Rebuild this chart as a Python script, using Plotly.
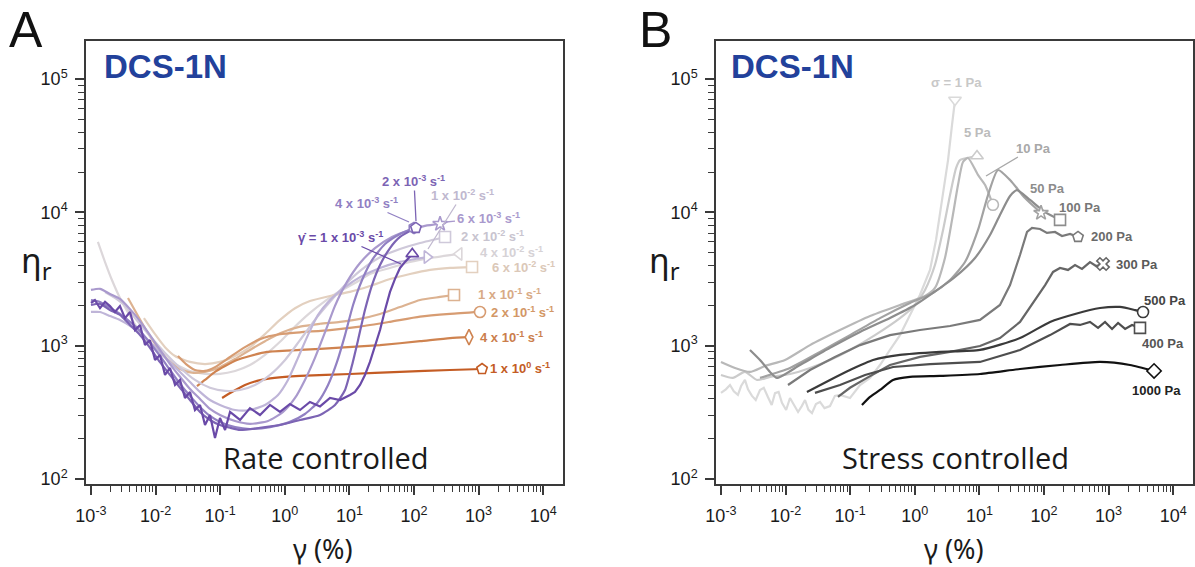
import plotly.graph_objects as go

W, H = 1195, 567

# ---------------- Panel A : rate controlled (strain %, relative viscosity) ----------------
A_r1e3_x = [0.001,0.00115,0.00138,0.00165,0.00197,0.00235,0.00281,0.00336,0.00402,0.0048,0.00574,0.00686,0.00819,0.0098,0.0117,0.014,0.0167,0.02,0.0239,0.0285,0.0341,0.0407,0.0487,0.0582,0.0695,0.0831,0.0993,0.119,0.142,0.203,0.289,0.413,0.59,0.843,1.2,1.72,2.45,3.51,5.01,7.15,10.2,12.2,14.6,17.4,20.8,24.9,29.8,35.6,42.5,50.8,60.7,72.6,94]
A_r1e3_y = [2090,2200,1910,2130,1980,1790,1980,1610,1790,1310,1430,1010,1100,781,852,603,680,507,553,405,449,329,359,254,302,203,287,233,318,277,340,302,359,318,365,329,378,350,405,391,427,449,507,603,755,1010,1310,1850,2530,3170,3830,4250,4880]

A_r2e3_x = [0.001,0.00138,0.00197,0.00281,0.00402,0.00574,0.00819,0.0117,0.0167,0.0239,0.0341,0.0487,0.0695,0.0993,0.142,0.203,0.413,0.843,1.72,3.51,5.98,8.55,11.0,13.6,17.4,22.4,29.8,42.5,60.7,107]
A_r2e3_y = [2020,2060,1850,1700,1430,1200,965,752,603,483,391,318,277,254,242,233,242,254,277,302,359,465,716,1100,1850,2850,4030,5400,6540,7650]

A_r4e3_x = [0.001,0.00138,0.00197,0.00281,0.00402,0.00574,0.00819,0.0117,0.0167,0.0239,0.0341,0.0487,0.0695,0.0993,0.170,0.289,0.590,1.20,2.05,3.27,4.67,6.43,8.55,11.4,15.7,22.4,35.6,60.7,100]
A_r4e3_y = [2200,2130,1920,1730,1510,1290,1050,837,657,516,420,347,297,268,245,237,245,268,307,378,507,755,1200,2020,3110,4390,5790,6890,7640]

A_r6e3_x = [0.001,0.00138,0.00197,0.00281,0.00402,0.00574,0.00819,0.0117,0.0167,0.0239,0.0341,0.0487,0.0695,0.0993,0.170,0.289,0.550,0.938,1.44,2.05,2.93,4.19,5.98,9.18,14.6,24.9,45.6,86.7,148,253]
A_r6e3_y = [2620,2670,2440,2240,1880,1530,1200,929,728,584,473,398,335,302,272,259,272,318,405,553,810,1260,1990,3010,4170,5390,6540,7380,7920,8190]

A_r1e2_x = [0.001,0.00138,0.00197,0.00281,0.00402,0.00574,0.00819,0.0117,0.0167,0.0239,0.0341,0.0487,0.0695,0.0993,0.170,0.289,0.494,0.785,1.12,1.60,2.28,3.27,5.01,8.55,14.6,29.8,60.7,104,159]
A_r1e2_y = [1790,1790,1670,1560,1410,1240,1070,898,755,635,534,450,391,359,329,329,359,427,553,810,1200,1700,2200,2750,3270,3830,4250,4470,4620]

A_r2e2_x = [0.00165,0.00235,0.00336,0.0048,0.00819,0.014,0.0239,0.0407,0.0695,0.119,0.203,0.346,0.590,1.01,1.72,2.93,5.01,8.55,14.6,29.8,60.7,124,302]
A_r2e2_y = [2530,2280,1990,1610,1180,881,683,553,483,458,465,507,603,781,1100,1560,2130,2850,3640,4610,5310,5890,6540]

A_r4e2_x = [0.00128,0.00165,0.00211,0.00281,0.00402,0.00574,0.00819,0.0117,0.0200,0.0341,0.0582,0.0993,0.170,0.289,0.494,0.843,1.44,2.45,4.19,7.15,12.2,20.8,42.5,86.7,177,498]
A_r4e2_y = [6000,4240,3110,2280,1670,1260,1030,867,728,646,614,614,646,716,852,1070,1390,1760,2160,2570,2950,3450,3830,4240,4540,4880]

A_r6e2_x = [0.0066,0.0098,0.014,0.020,0.0341,0.0582,0.0993,0.170,0.289,0.494,0.843,1.44,2.45,5.01,10.2,20.8,42.5,86.7,177,361,791]
A_r6e2_y = [1610,1220,975,837,755,728,755,837,975,1220,1560,1910,2160,2360,2530,2800,3160,3450,3700,3830,3890]

A_r1e1_x = [0.00374,0.00535,0.00763,0.0109,0.0156,0.0239,0.0366,0.0582,0.0993,0.170,0.289,0.494,0.843,1.72,3.51,7.15,14.6,29.8,60.7,124,253,416]
A_r1e1_y = [2280,1670,1240,965,781,668,626,635,690,795,929,1080,1240,1390,1460,1510,1590,1730,1950,2200,2320,2400]

A_r2e1_x = [0.0222,0.0296,0.0407,0.0582,0.0831,0.142,0.242,0.413,0.843,1.72,5.01,14.6,42.5,124,361,1050]
A_r2e1_y = [837,728,657,646,690,822,975,1120,1220,1260,1310,1390,1510,1650,1730,1790]

A_r4e1_x = [0.0437,0.0582,0.0831,0.119,0.182,0.289,0.530,1.72,7.15,29.8,124,361,710]
A_r4e1_y = [498,553,635,703,781,837,898,929,965,1010,1080,1140,1160]

A_r1e0_x = [0.107,0.152,0.242,0.372,0.530,1.01,1.72,10.2,60.7,361,1130]
A_r1e0_y = [405,449,507,544,563,583,593,613,635,657,668]

# ---------------- Panel B : stress controlled ----------------
B_s1_x = [0.001,0.00119,0.00138,0.00158,0.00183,0.00205,0.00235,0.00262,0.00302,0.00345,0.00402,0.0046,0.00535,0.0061,0.00686,0.0078,0.00879,0.0102,0.0117,0.0135,0.0156,0.0178,0.0200,0.0226,0.0256,0.0295,0.0341,0.0400,0.0487,0.0580,0.0695,0.0993,0.142,0.203,0.289,0.413,0.590,0.843,1.20,1.72,2.13,2.64,3.27,3.77,4.19]
B_s1_y = [442,470,507,455,427,498,553,470,420,391,465,483,410,359,440,449,372,329,405,360,318,352,391,330,312,365,378,340,352,420,427,405,507,573,716,929,1200,1700,2400,3700,6210,12400,24700,45300,69700]

B_s5_x = [0.001,0.00153,0.00235,0.00361,0.00574,0.0117,0.0239,0.0487,0.0993,0.242,0.590,1.01,1.44,2.05,2.74,3.51,4.35,5.01,6.43,9.18]
B_s5_y = [603,573,635,553,583,613,680,781,929,1200,1610,2020,2620,4030,7380,13500,21500,24700,25600,26500]

B_s10_x = [0.001,0.00165,0.00281,0.0048,0.0098,0.0239,0.0695,0.203,0.590,1.44,2.05,2.93,3.77,4.67,5.57,6.67,9.51,12.2,16.2]
B_s10_y = [755,680,635,704,781,1010,1310,1670,2020,2360,2710,4550,8780,16100,23900,25600,19100,16100,11400]

B_s50_x = [0.00402,0.0117,0.0341,0.0993,0.289,0.843,1.91,3.51,5.98,9.51,13.6,19.4,29.8,50.8,89.9]
B_s50_y = [573,680,898,1200,1610,2090,2490,3110,4240,7380,13500,20800,17500,12800,9900]

B_s100_x = [0.00281,0.00402,0.00574,0.00736,0.0167,0.0487,0.142,0.413,1.01,1.91,4.19,8.55,14.6,20.8,29.8,38.2,60.7,104,177]
B_s100_y = [929,781,635,573,716,962,1266,1615,2020,2490,3275,4550,6770,9570,13270,14700,12400,10050,8780]

B_s200_x = [0.0109,0.0239,0.0582,0.142,0.413,1.20,3.51,10.2,20.8,29.8,42.5,54.6,65.2,86.7,111,148,190,253,336]
B_s200_y = [507,657,823,1010,1200,1310,1405,1560,2020,2850,4790,7130,7640,7510,7010,7130,6650,6890,6540]

B_s300_x = [0.0647,0.0993,0.182,0.413,1.20,3.51,10.2,20.8,42.5,72.6,104,138,177,235,302,387,515,638,819]
B_s300_y = [413,483,573,716,823,898,994,1140,1507,2200,2850,3575,3830,3700,4030,3764,4240,3960,4100]

B_s400_x = [0.0285,0.0695,0.170,0.460,1.72,10.2,42.5,124,253,361,515,686,880,1130,1400,1800,2300,3060]
B_s400_y = [442,507,603,692,728,755,929,1200,1455,1430,1507,1360,1507,1335,1480,1335,1430,1360]

B_s500_x = [0.0214,0.0487,0.0993,0.226,0.590,2.45,10.2,42.5,124,302,736,1500,2570,3410]
B_s500_y = [449,553,657,781,852,898,929,1140,1507,1730,1916,1952,1850,1787]

B_s1000_x = [0.152,0.203,0.289,0.460,0.843,2.45,10.2,42.5,177,736,2140,5050]
B_s1000_y = [359,413,465,553,583,593,613,668,716,755,716,646]

# tick labels
x_tickvals = [1e-3, 1e-2, 1e-1, 1e0, 1e1, 1e2, 1e3, 1e4]
x_ticktext = ["10<sup>-3</sup>", "10<sup>-2</sup>", "10<sup>-1</sup>", "10<sup>0</sup>",
              "10<sup>1</sup>", "10<sup>2</sup>", "10<sup>3</sup>", "10<sup>4</sup>"]
y_tickvals = [1e2, 1e3, 1e4, 1e5]
y_ticktext = ["10<sup>2</sup>", "10<sup>3</sup>", "10<sup>4</sup>", "10<sup>5</sup>"]

# series: (x, y, colour, end-marker symbol, line shape)
seriesA = [
    (A_r4e2_x, A_r4e2_y, "#dcd7da", "triangle-left", "spline"),
    (A_r6e2_x, A_r6e2_y, "#e3d0bf", "square", "spline"),
    (A_r1e1_x, A_r1e1_y, "#dcb291", "square", "spline"),
    (A_r2e1_x, A_r2e1_y, "#d79c72", "circle", "spline"),
    (A_r4e1_x, A_r4e1_y, "#cf8350", "diamond-tall", "spline"),
    (A_r1e0_x, A_r1e0_y, "#c45c24", "pentagon", "spline"),
    (A_r2e2_x, A_r2e2_y, "#cfc9da", "square", "spline"),
    (A_r1e2_x, A_r1e2_y, "#bfb5d8", "triangle-right", "spline"),
    (A_r6e3_x, A_r6e3_y, "#a999cd", "star", "spline"),
    (A_r4e3_x, A_r4e3_y, "#9180c3", "hexagon", "spline"),
    (A_r2e3_x, A_r2e3_y, "#7c64b4", "pentagon", "spline"),
    (A_r1e3_x, A_r1e3_y, "#6a4aa8", "triangle-up", "linear"),
]
seriesB = [
    (B_s1_x, B_s1_y, "#dadada", "triangle-down", "linear"),
    (B_s5_x, B_s5_y, "#cbcbcb", "triangle-up", "spline"),
    (B_s10_x, B_s10_y, "#b8b8b8", "circle", "spline"),
    (B_s50_x, B_s50_y, "#a2a2a2", "star", "spline"),
    (B_s100_x, B_s100_y, "#8d8d8d", "square", "spline"),
    (B_s200_x, B_s200_y, "#7a7a7a", "pentagon", "linear"),
    (B_s300_x, B_s300_y, "#666666", "x", "linear"),
    (B_s400_x, B_s400_y, "#4e4e4e", "square", "linear"),
    (B_s500_x, B_s500_y, "#3a3a3a", "circle", "spline"),
    (B_s1000_x, B_s1000_y, "#111111", "diamond", "spline"),
]

fig = go.Figure()

def add_lines(series, xa, ya):
    for x, y, c, sym, shp in series:
        fig.add_trace(go.Scatter(x=x, y=y, mode="lines", xaxis=xa, yaxis=ya,
                                 line=dict(color=c, width=2.2, shape=shp, smoothing=0.6),
                                 showlegend=False, hoverinfo="skip"))

def add_markers(series, xa, ya):
    for x, y, c, sym, shp in series:
        fig.add_trace(go.Scatter(x=[x[-1]], y=[y[-1]], mode="markers", xaxis=xa, yaxis=ya,
                                 marker=dict(symbol=sym, size=11, color="white",
                                             line=dict(color=c, width=1.6)),
                                 showlegend=False, hoverinfo="skip"))

add_lines(seriesA, "x", "y")
add_lines(seriesB, "x2", "y2")
add_markers(seriesA, "x", "y")
add_markers(seriesB, "x2", "y2")

minor_x = [m * 10.0 ** k for k in range(-3, 4) for m in range(2, 10)]
minor_y = [m * 10.0 ** k for k in range(2, 5) for m in range(2, 10)]

AX = "#3a3a3a"
TICKFONT = dict(family="Liberation Sans, Arial", size=18, color="#1a1a1a")

def xaxis(dom, anchor):
    return dict(type="log", domain=dom, anchor=anchor, range=[-3.077, 4.306],
                showline=True, linecolor=AX, linewidth=1.5, mirror=True,
                ticks="outside", ticklen=9, tickwidth=1.5, tickcolor=AX,
                tickmode="array", tickvals=x_tickvals, ticktext=x_ticktext,
                ticklabelstandoff=6,
                minor=dict(tickvals=minor_x, ticks="outside", ticklen=6, tickwidth=1.2,
                           tickcolor=AX, showgrid=False),
                showgrid=False, zeroline=False, automargin=False, tickfont=TICKFONT)

def yaxis(anchor):
    return dict(type="log", domain=[1 - 484 / H, 1 - 41 / H], anchor=anchor,
                range=[1.962, 5.286],
                showline=True, linecolor=AX, linewidth=1.5, mirror=True,
                ticks="outside", ticklen=9, tickwidth=1.5, tickcolor=AX,
                tickmode="array", tickvals=y_tickvals, ticktext=y_ticktext,
                ticklabelstandoff=4,
                minor=dict(tickvals=minor_y, ticks="outside", ticklen=6, tickwidth=1.2,
                           tickcolor=AX, showgrid=False),
                showgrid=False, zeroline=False, automargin=False, tickfont=TICKFONT)

fig.update_layout(
    width=W, height=H, template="none",
    margin=dict(l=0, r=0, t=0, b=0),
    paper_bgcolor="white", plot_bgcolor="white",
    xaxis=xaxis([86 / W, 563 / W], "y"),
    yaxis=yaxis("x"),
    xaxis2=xaxis([716 / W, 1193 / W], "y2"),
    yaxis2=yaxis("x2"),
    showlegend=False,
)

def P(px, py):
    return px / W, 1 - py / H

ann = []
def text(px, py, t, size, color, family="Liberation Sans, Arial"):
    x, y = P(px, py)
    ann.append(dict(x=x, y=y, xref="paper", yref="paper", text=t, showarrow=False,
                    xanchor="center", yanchor="middle",
                    font=dict(size=size, color=color, family=family)))

def arrow_text(tx, ty, lx, ly, t, size, color):
    x, y = P(tx, ty)
    ann.append(dict(x=x, y=y, xref="paper", yref="paper", text=t, showarrow=True,
                    ax=lx - tx, ay=ly - ty, arrowhead=0, arrowwidth=1.3,
                    arrowcolor=color, standoff=0,
                    font=dict(size=size, color=color, family="Liberation Sans, Arial")))

# Panel letters, titles
text(26, 30, "A", 50, "#111")
text(655, 30, "B", 50, "#111")
text(165, 66, "<b>DCS-1N</b>", 33, "#22419b")
text(792, 66, "<b>DCS-1N</b>", 33, "#22419b")
text(326, 457, "Rate controlled", 29, "#1a1a1a", "Open Sans, Noto Sans")
text(955, 457, "Stress controlled", 29, "#1a1a1a", "Open Sans, Noto Sans")
text(323, 548, "γ (%)", 27, "#1a1a1a", "Noto Sans, Open Sans")
text(954, 548, "γ (%)", 27, "#1a1a1a", "Noto Sans, Open Sans")
text(36, 262, "η<sub>r</sub>", 34, "#1a1a1a", "Noto Sans, Open Sans")
text(664, 262, "η<sub>r</sub>", 34, "#1a1a1a", "Noto Sans, Open Sans")

def s(a, e):
    return "<b>%s x 10<sup>%s</sup> s<sup>-1</sup></b>" % (a, e)

# Panel A labels
arrow_text(401, 264, 340, 237, "<b>γ̇ = 1 x 10<sup>-3</sup> s<sup>-1</sup></b>", 13, "#6a4aa8")
arrow_text(409, 222, 366, 203, s("4", "-3"), 13, "#9180c3")
arrow_text(416, 221, 414, 181, s("2", "-3"), 13, "#7c64b4")
arrow_text(428, 249, 462, 195, s("1", "-2"), 13, "#c0b8cf")
arrow_text(446, 222, 488, 218, s("6", "-3"), 13, "#a999cd")
text(492, 236, s("2", "-2"), 13, "#c8c4cf")
text(512, 252, s("4", "-2"), 13, "#d6d2d6")
text(523, 267, s("6", "-2"), 13, "#dbc8b8")
text(509, 294, s("1", "-1"), 13, "#d8aa86")
text(522, 312, s("2", "-1"), 13, "#d39766")
text(512, 337, s("4", "-1"), 13, "#cb7e4c")
text(520, 368, s("1", "0"), 13, "#c45c24")

# Panel B labels
text(957, 82, "<b>σ = 1 Pa</b>", 13, "#c8c8c8")
text(978, 133, "<b>5 Pa</b>", 13, "#bcbcbc")
arrow_text(986, 176, 1033, 148, "<b>10 Pa</b>", 13, "#a8a8a8")
text(1047, 189, "<b>50 Pa</b>", 13, "#8c8c8c")
text(1080, 207, "<b>100 Pa</b>", 13, "#777777")
text(1112, 237, "<b>200 Pa</b>", 13, "#6a6a6a")
text(1137, 264, "<b>300 Pa</b>", 13, "#5a5a5a")
text(1165, 300, "<b>500 Pa</b>", 13, "#444444")
text(1163, 343, "<b>400 Pa</b>", 13, "#555555")
text(1156, 390, "<b>1000 Pa</b>", 13, "#222222")

fig.update_layout(annotations=ann)
fig.write_html("out.html")
